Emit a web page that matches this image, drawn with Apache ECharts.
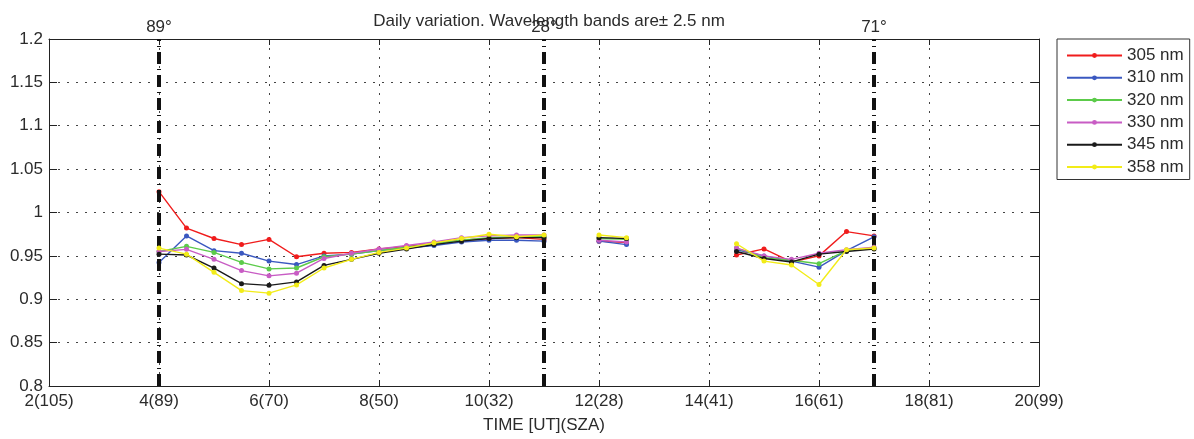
<!DOCTYPE html>
<html lang="en">

<head>
    <meta charset="UTF-8">
    <title>Daily variation</title>
    <script src="https://cdn.jsdelivr.net/npm/echarts@6/dist/echarts.min.js"></script>
    <style>
        * {
            margin: 0;
            padding: 0
        }

        html,
        body {
            width: 100%;
            height: 100%;
            background: #fff;
        }
    </style>
</head>

<body>
    <div id="main" style="width:1194px;height:439px"></div>

    <script>
        // time in UT hours, half-hour steps (null = no measurement)
        var times = [4, 4.5, 5, 5.5, 6, 6.5, 7, 7.5, 8, 8.5, 9, 9.5, 10, 10.5, 11, 11.5,
            12, 12.5, 13, 13.5, 14, 14.5, 15, 15.5, 16, 16.5, 17];

        var names = ['305 nm', '310 nm', '320 nm', '330 nm', '345 nm', '358 nm'];
        var colors = ['#f01c1c', '#3a58c0', '#5ccb4a', '#c85cc4', '#1a1a1a', '#f2ec18'];

        var v305 = [1.024, 0.982, 0.970, 0.963, 0.969, 0.949, 0.953, 0.954, 0.958, 0.961, 0.964, 0.968, 0.970, 0.971, 0.969, null,
            0.967, 0.9655, null, null, null, 0.951, 0.958, 0.943, 0.950, 0.978, 0.973];
        var v310 = [0.9425, 0.973, 0.956, 0.953, 0.944, 0.940, 0.950, 0.952, 0.956, 0.959, 0.962, 0.966, 0.968, 0.968, 0.967, null,
            0.967, 0.963, null, null, null, 0.957, 0.950, 0.944, 0.937, 0.956, 0.972];
        var v320 = [0.955, 0.961, 0.954, 0.9425, 0.935, 0.936, 0.949, 0.952, 0.956, 0.960, 0.964, 0.968, 0.971, 0.972, 0.972, null,
            0.970, 0.969, null, null, null, 0.959, 0.948, 0.945, 0.941, 0.956, 0.959];
        var v330 = [0.955, 0.9575, 0.946, 0.933, 0.927, 0.930, 0.947, 0.953, 0.958, 0.962, 0.966, 0.971, 0.973, 0.974, 0.974, null,
            0.968, 0.966, null, null, null, 0.959, 0.950, 0.946, 0.953, 0.957, 0.960];
        var v345 = [0.952, 0.951, 0.936, 0.918, 0.916, 0.920, 0.939, 0.946, 0.953, 0.958, 0.963, 0.967, 0.970, 0.971, 0.971, null,
            0.971, 0.970, null, null, null, 0.955, 0.947, 0.943, 0.952, 0.955, 0.958];
        var v358 = [0.959, 0.952, 0.931, 0.910, 0.907, 0.9165, 0.936, 0.946, 0.954, 0.959, 0.965, 0.970, 0.975, 0.972, 0.974, null,
            0.974, 0.971, null, null, null, 0.964, 0.944, 0.9395, 0.917, 0.957, 0.959];

        var xTickLabels = {2: '2(105)', 4: '4(89)', 6: '6(70)', 8: '8(50)', 10: '10(32)',
            12: '12(28)', 14: '14(41)', 16: '16(61)', 18: '18(81)', 20: '20(99)'};

        // solar zenith angle markers
        var markTimes = [4, 11, 17];
        var markAngles = ['89°', '28°', '71°'];

        var font = 'Liberation Sans, Arial, sans-serif';
        var txt = '#2b2b2b';
        var dotted = { show: true, lineStyle: { color: '#444', width: 1, type: [2, 7] } };

        var allValues = [v305, v310, v320, v330, v345, v358];
        var series = allValues.map(function (vals, i) {
            return {
                name: names[i],
                type: 'line',
                data: times.map(function (t, k) { return [t, vals[k]]; }),
                connectNulls: false,
                color: colors[i],
                symbol: 'circle',
                symbolSize: 5,
                showSymbol: true,
                lineStyle: { width: 1.4 },
                animation: false,
                z: 3 + i
            };
        });

        series.push({
            type: 'line',
            data: [],
            silent: true,
            animation: false,
            markLine: {
                symbol: 'none',
                silent: true,
                animation: false,
                lineStyle: { color: '#111', width: 4, type: [12, 5, 1, 5] },
                label: {
                    position: 'end',
                    distance: 3,
                    color: txt,
                    fontFamily: font,
                    fontSize: 17,
                    formatter: function (p) { return p.name; }
                },
                data: markTimes.map(function (t, i) { return { xAxis: t, name: markAngles[i] }; })
            }
        });

        var chart = echarts.init(document.getElementById('main'));
        chart.setOption({
            backgroundColor: '#fff',
            title: {
                text: 'Daily variation. Wavelength bands are\u00b1 2.5 nm',
                left: 544,
                textAlign: 'center',
                top: 8,
                textStyle: { fontFamily: font, fontSize: 17, fontWeight: 'normal', color: txt }
            },
            legend: {
                data: names,
                orient: 'vertical',
                left: 1057,
                top: 39,
                padding: [8, 6, 4, 9],
                itemWidth: 55,
                itemHeight: 6,
                itemGap: 5.3,
                borderColor: '#333',
                borderWidth: 1,
                textStyle: { fontFamily: font, fontSize: 17, color: txt }
            },
            grid: { left: 49, right: 155, top: 39, bottom: 52, containLabel: false },
            xAxis: [{
                type: 'value',
                min: 2,
                max: 20,
                interval: 2,
                position: 'bottom',
                name: 'TIME [UT](SZA)',
                nameLocation: 'middle',
                nameGap: 31,
                nameTextStyle: { fontFamily: font, fontSize: 17, color: txt },
                axisLine: { show: true, lineStyle: { color: '#222', width: 1 } },
                axisTick: { inside: true, length: 6, lineStyle: { color: '#222' } },
                axisLabel: {
                    margin: 7,
                    fontFamily: font,
                    fontSize: 17,
                    color: txt,
                    formatter: function (v) { return xTickLabels[v] || ''; }
                },
                splitLine: dotted
            }, {
                type: 'value',
                min: 2,
                max: 20,
                interval: 2,
                position: 'top',
                axisLine: { show: true, lineStyle: { color: '#222', width: 1 } },
                axisTick: { inside: true, length: 6, lineStyle: { color: '#222' } },
                axisLabel: { show: false },
                splitLine: { show: false }
            }],
            yAxis: [{
                type: 'value',
                min: 0.8,
                max: 1.2,
                interval: 0.05,
                position: 'left',
                axisLine: { show: true, lineStyle: { color: '#222', width: 1 } },
                axisTick: { show: true, inside: true, length: 8, lineStyle: { color: '#222' } },
                axisLabel: {
                    margin: 6,
                    fontFamily: font,
                    fontSize: 17,
                    color: txt,
                    formatter: function (v) { return String(+v.toFixed(2)); }
                },
                splitLine: dotted
            }, {
                type: 'value',
                min: 0.8,
                max: 1.2,
                interval: 0.05,
                position: 'right',
                axisLine: { show: true, lineStyle: { color: '#222', width: 1 } },
                axisTick: { show: true, inside: true, length: 8, lineStyle: { color: '#222' } },
                axisLabel: { show: false },
                splitLine: { show: false }
            }],
            series: series
        });
    </script>
</body>

</html>
